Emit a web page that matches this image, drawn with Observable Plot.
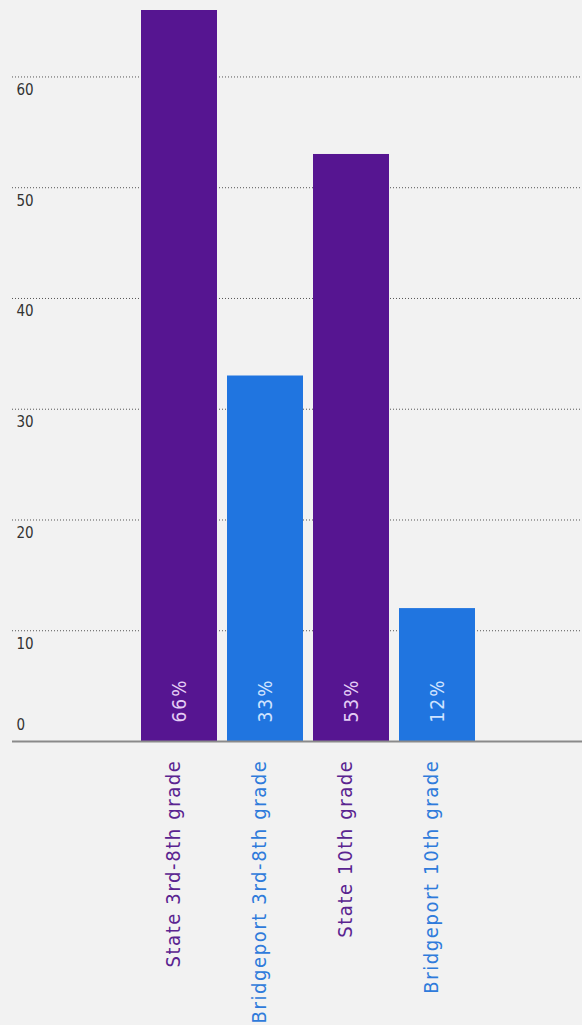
<!DOCTYPE html>
<html>
<head>
<meta charset="utf-8">
<script src="https://cdn.jsdelivr.net/npm/d3@7"></script>
<script src="https://cdn.jsdelivr.net/npm/@observablehq/plot@0.6"></script>
<style>
  html, body { margin: 0; padding: 0; background: #f2f2f2; }
  #chart svg { display: block; background: #f2f2f2; }
  .cat-label text { letter-spacing: 1.6px; }
  .val-label text { letter-spacing: 2px; }
</style>
</head>
<body>
<div id="chart"></div>
<script>
const categories = ["State 3rd-8th grade", "Bridgeport 3rd-8th grade", "State 10th grade", "Bridgeport 10th grade"];
const values = [66, 33, 53, 12];
const valueLabels = ["66%", "33%", "53%", "12%"];
const barColors = ["#561591", "#2075e0", "#561591", "#2075e0"];
const labelColors = ["#5a2490", "#2f7bdb", "#5a2490", "#2f7bdb"];
const valueTextColors = ["#e3cdf5", "#cfe3ff", "#e3cdf5", "#cfe3ff"];
const yTicks = [10, 20, 30, 40, 50, 60];

const data = categories.map((c, i) => ({
  cat: c, value: values[i], label: valueLabels[i],
  bar: barColors[i], lab: labelColors[i], vt: valueTextColors[i]
}));

const font = "'DejaVu Sans Condensed', 'Liberation Sans Narrow', sans-serif";

const chart = Plot.plot({
  width: 582,
  height: 1025,
  marginTop: 10,
  marginLeft: 12,
  marginRight: 0,
  marginBottom: 284,
  style: { background: "#f2f2f2", fontFamily: font },
  x: { domain: categories, insetLeft: 128, insetRight: 105, paddingInner: 0.115, paddingOuter: 0, axis: null },
  y: { domain: [0, 66], axis: null },
  color: { type: "identity" },
  marks: [
    Plot.ruleY(yTicks, { stroke: "#555", strokeWidth: 1, strokeDasharray: "1,2" }),
    Plot.barY(data, { x: "cat", y: "value", fill: "bar" }),
    Plot.ruleY([0], { stroke: "#8a8a8a", strokeWidth: 2 }),
    Plot.text(yTicks, {
      y: d => d, frameAnchor: "left", text: d => String(d), textAnchor: "start",
      dx: 4, dy: 13, fontSize: 15, fill: "#333"
    }),
    Plot.text([0], {
      y: d => d, frameAnchor: "left", text: d => String(d), textAnchor: "start",
      dx: 4, dy: -16, fontSize: 15, fill: "#333"
    }),
    Plot.text(data, {
      x: "cat", y: 0, text: "label", rotate: -90, textAnchor: "start",
      dy: -19, fontSize: 19, fill: "vt", className: "val-label"
    }),
    Plot.text(data, {
      x: "cat", frameAnchor: "bottom", text: "cat", rotate: -90, textAnchor: "end",
      dy: 18, fontSize: 20, fill: "lab", className: "cat-label"
    })
  ]
});
document.getElementById("chart").appendChild(chart);
</script>
</body>
</html>
